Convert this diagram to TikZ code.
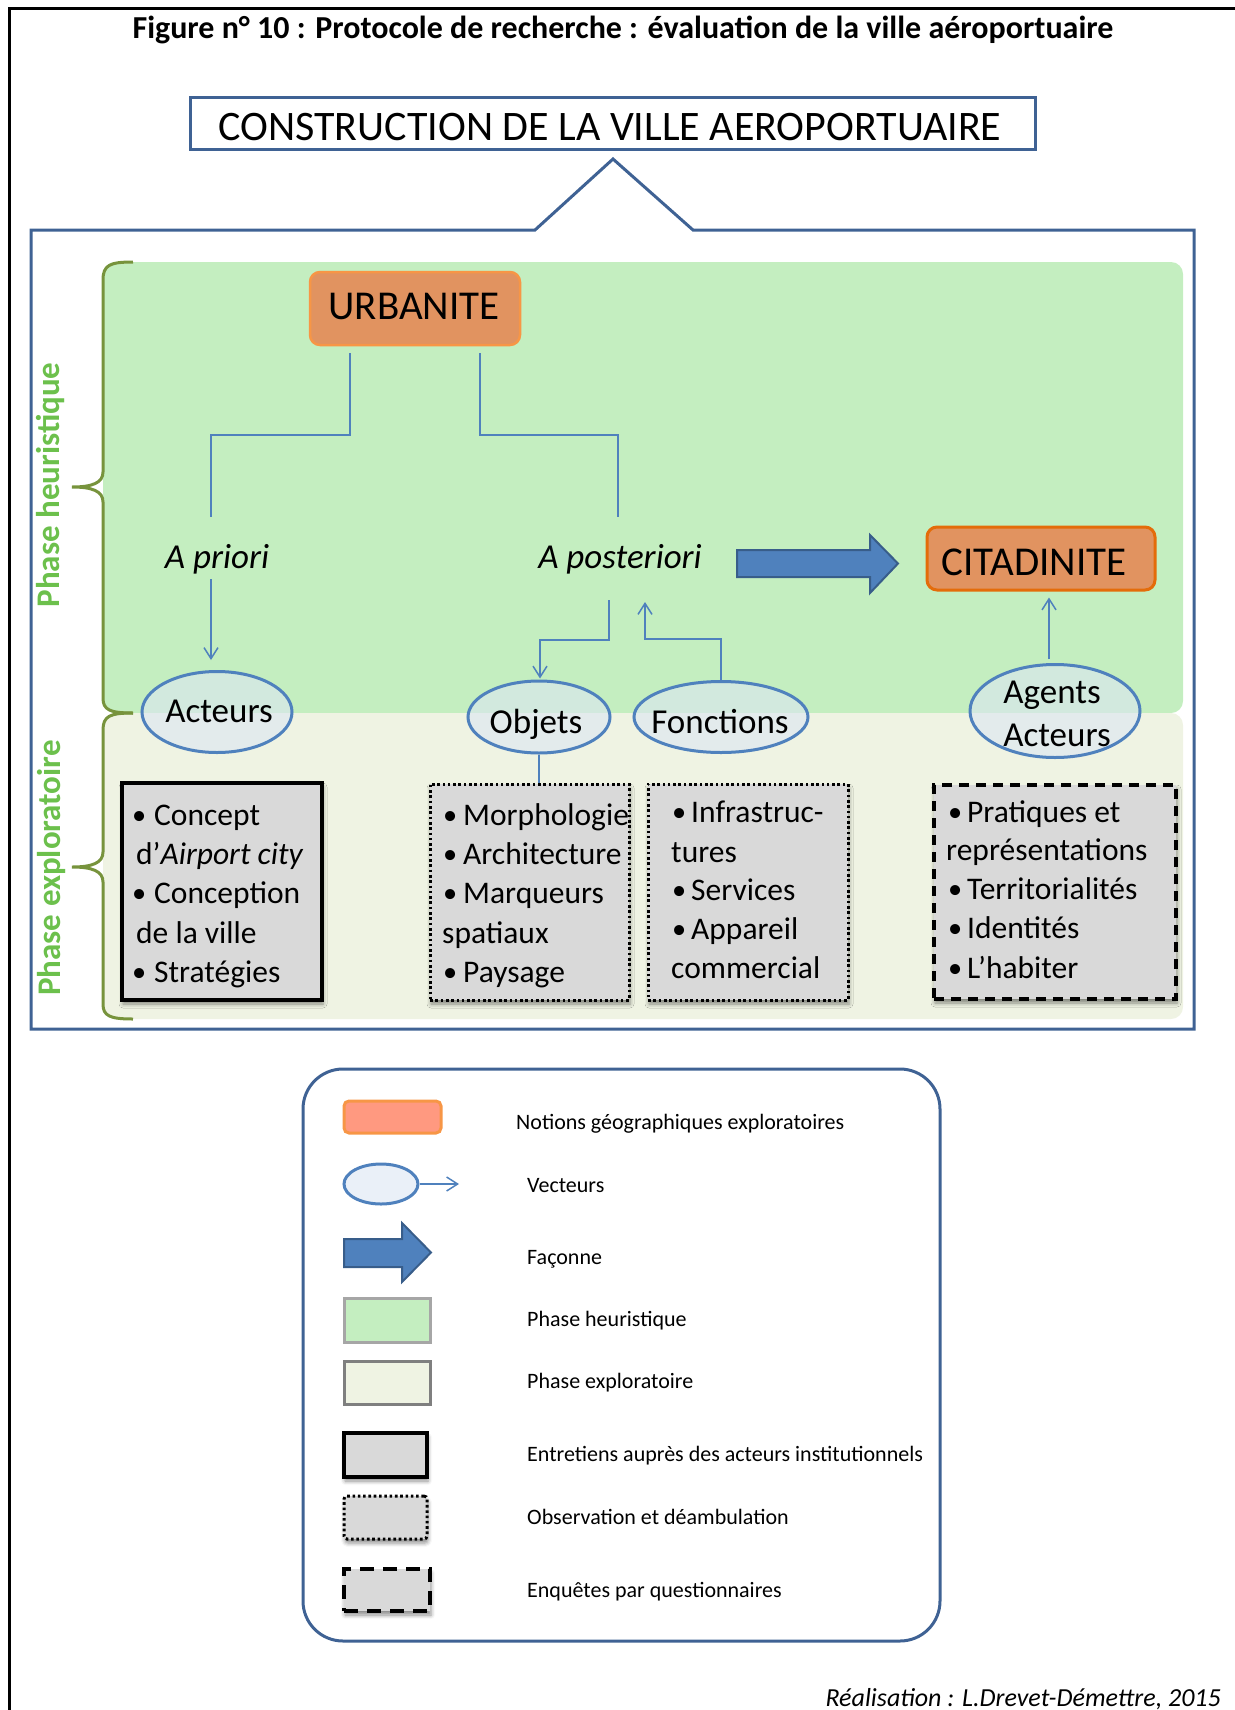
\documentclass[tikz,border=0pt]{standalone}
\usepackage{fontspec}
\setmainfont{Carlito}
\usetikzlibrary{shapes.geometric,arrows.meta,shadows.blur,calc}
\definecolor{frameblue}{RGB}{63,98,148}
\definecolor{connblue}{RGB}{79,129,189}
\definecolor{hgreen}{RGB}{196,238,192}
\definecolor{ebeige}{RGB}{239,243,227}
\definecolor{braceolive}{RGB}{119,147,60}
\definecolor{phasegreen}{RGB}{108,192,76}
\definecolor{notionfill}{RGB}{225,147,96}
\definecolor{notionedge}{RGB}{247,150,70}
\definecolor{notiondark}{RGB}{228,108,10}
\definecolor{vecfill}{RGB}{220,230,242}
\definecolor{boxgray}{RGB}{217,217,217}
\definecolor{arrowfill}{RGB}{79,129,189}
\definecolor{arrowedge}{RGB}{56,93,138}
\definecolor{salmon}{RGB}{255,153,128}
\definecolor{leggray}{RGB}{166,166,166}
\definecolor{legdark}{RGB}{127,127,127}
\definecolor{legellfill}{RGB}{234,240,248}
\newcommand\fsz[1]{\fontsize{#1pt}{#1pt}\selectfont}
\newcommand\bul[1]{\makebox[#1pt][l]{\hspace{-2pt}\raisebox{1pt}{\scalebox{0.9}{•}}}}
\tikzset{
  conn/.style={draw=connblue, line width=1.5pt},
  connarr/.style={conn, -{Straight Barb[length=11pt,width=14pt]}},
  ell/.style={ellipse, draw=connblue, line width=3pt, fill=vecfill, fill opacity=0.6, inner sep=0pt},
  notion/.style={rectangle, rounded corners=10pt, fill=notionfill, line width=2.5pt, inner sep=0pt},
  graybox/.style={rectangle, fill=boxgray, inner sep=0pt,
    blur shadow={shadow xshift=1pt, shadow yshift=-4pt, shadow opacity=45, shadow blur radius=4pt}},
  solidbox/.style={graybox, draw=black, line width=3.5pt},
  dotbox/.style={graybox, draw=black, line width=3pt, dash pattern=on 2.6pt off 2.7pt},
  dashbox/.style={graybox, draw=black, line width=3.5pt, dash pattern=on 10pt off 7pt},
  boxtxt/.style={anchor=base west, inner sep=0pt, font=\fsz{31.5}},
  elltxt/.style={anchor=base, inner sep=0pt, font=\fsz{35}},
  legtxt/.style={anchor=base west, inner sep=0pt, font=\fsz{22}},
  bracestyle/.style={draw=braceolive, line width=3pt},
  phase/.style={rotate=90, text=phasegreen, font=\bfseries\fsz{33}, inner sep=0pt},
  framestyle/.style={draw=frameblue, line width=3pt}
}
\begin{document}
\begin{tikzpicture}[x=1pt,y=-1pt]
\useasboundingbox (0,0) rectangle (1234,1710);
% outer frame
\draw[black, line width=3pt] (9,1712) -- (9,9) -- (1236,9);
% title
\node[anchor=base, inner sep=0pt, font=\bfseries\fsz{32}] (title) at (623,39) {Figure n° 10 : Protocole de recherche : évaluation de la ville aéroportuaire};
% construction box
\node[framestyle, rectangle, fill=white, minimum width=845pt, minimum height=52pt, inner sep=0pt] (cons) at (612.5,123) {};
\node[anchor=base, inner sep=0pt, font=\fsz{42}] (constxt) at (610,140) {CONSTRUCTION DE LA VILLE AEROPORTUAIRE};
% callout frame
\draw[framestyle, line join=miter] (31,230) -- (535,230) -- (613,159) -- (693,230) -- (1194,230) -- (1194,1029) -- (31,1029) -- cycle;
% phases
\fill[hgreen, rounded corners=12pt] (103,262) rectangle (1183,713);
\fill[ebeige, rounded corners=12pt] (103,713) rectangle (1183,1019);
% braces
\draw[bracestyle] (133,262) .. controls (110,262) and (103,265) .. (103,280) -- (103,472)
  .. controls (103,483) and (92,487) .. (72,487) .. controls (92,487) and (103,491) .. (103,502)
  -- (103,698) .. controls (103,710) and (110,713) .. (133,713);
\draw[bracestyle] (133,713) .. controls (110,713) and (103,716) .. (103,730) -- (103,852)
  .. controls (103,863) and (92,867) .. (72,867) .. controls (92,867) and (103,871) .. (103,882)
  -- (103,1004) .. controls (103,1016) and (110,1019) .. (133,1019);
\node[phase] (ph) at (50,485) {Phase heuristique};
\node[phase] (pe) at (52,868) {Phase exploratoire};
% notions
\node[notion, draw=notionedge, minimum width=210pt, minimum height=73pt] (urb) at (415,308.5) {};
\node[anchor=base, inner sep=0pt, font=\fsz{41}] (urbtxt) at (414,319) {URBANITE};
\node[notion, draw=notiondark, line width=3pt, minimum width=228pt, minimum height=63pt] (cit) at (1041,558.5) {};
\node[anchor=base, inner sep=0pt, font=\fsz{41}] (cittxt) at (1034,575) {CITADINITE};
% a priori / a posteriori
\node[anchor=base, inner sep=0pt, font=\itshape\fsz{35}] (apri) at (217,568) {A priori};
\node[anchor=base, inner sep=0pt, font=\itshape\fsz{35}] (apos) at (620,568) {A posteriori};
% big arrow
\filldraw[fill=arrowfill, draw=arrowedge, line width=2pt, line join=miter] (737,550) -- (870,550) -- (870,535) -- (898,563.5) -- (870,593) -- (870,577) -- (737,577) -- cycle;
% ellipses
\node[ell, minimum width=150pt, minimum height=81pt] (act) at (217,712) {};
\node[ell, minimum width=142pt, minimum height=72pt] (obj) at (539,717) {};
\node[ell, minimum width=174pt, minimum height=71pt] (fon) at (721,717) {};
\node[ell, minimum width=170pt, minimum height=93pt] (age) at (1055,711) {};
\node[elltxt] (acttxt) at (219,722) {Acteurs};
\node[elltxt] (objtxt) at (536,733) {Objets};
\node[elltxt] (fontxt) at (720,733) {Fonctions};
\node[elltxt] (agetxta) at (1052,703) {Agents};
\node[elltxt] (agetxtb) at (1057,746) {Acteurs};
% connectors
\coordinate (ul) at (350,353);
\coordinate (apritop) at (211,517);
\coordinate (ur) at (480,353);
\coordinate (apostop) at (618,517);
\coordinate (apribot) at (211,579);
\coordinate (aposbl) at (609,600);
\coordinate (aposbr) at (645,602);
\draw[conn] (ul) -- ++(0,82) -| (apritop);
\draw[conn] (ur) -- ++(0,82) -| (apostop);
\draw[connarr] (apribot) -- ($(act.north)+(-6,-10)$);
\draw[connarr] (aposbl) -- ++(0,40) -| ($(obj.north)+(1,-1)$);
\draw[connarr] (fon.north) -- ++(0,-41) -| (aposbr);
\draw[connarr] ($(age.north)+(-6,-4)$) -- ($(cit.south)+(8,6)$);
% boxes
\node[solidbox, minimum width=200pt, minimum height=217pt] (actbox) at (222,891.5) {};
\node[dotbox, minimum width=199pt, minimum height=216pt] (objbox) at (529.5,892) {};
\node[dotbox, minimum width=200pt, minimum height=216pt] (fonbox) at (748,892) {};
\node[dashbox, minimum width=242pt, minimum height=214pt] (agebox) at (1055,892) {};
\draw[conn] ($(act.south)+(-5,0)$) -- ($(act.south)+(-5,0)$ |- actbox.north);
\draw[conn] (obj.south) -- (obj.south |- objbox.north);
\draw[conn] ($(fon.south)+(6,0)$) -- ($(fon.south)+(6,0)$ |- fonbox.north);
\draw[conn] ($(age.south)+(-6,0)$) -- ($(age.south)+(-6,0)$ |- agebox.north);
% box texts
\node[boxtxt] (a1) at (134,825) {\bul{20}Concept};
\node[boxtxt] (a2) at (136,864) {d’\textit{Airport city}};
\node[boxtxt] (a3) at (134,903) {\bul{20}Conception};
\node[boxtxt] (a4) at (136,943) {de la ville};
\node[boxtxt] (a5) at (134,982) {\bul{20}Stratégies};
\node[boxtxt] (o1) at (445,825) {\bul{18}Morphologie};
\node[boxtxt] (o2) at (445,864) {\bul{18}Architecture};
\node[boxtxt] (o3) at (445,903) {\bul{18}Marqueurs};
\node[boxtxt] (o4) at (442,943) {spatiaux};
\node[boxtxt] (o5) at (445,982) {\bul{18}Paysage};
\node[boxtxt] (f1) at (674,822) {\bul{17}Infrastruc-};
\node[boxtxt] (f2) at (671,862) {tures};
\node[boxtxt] (f3) at (674,900) {\bul{17}Services};
\node[boxtxt] (f4) at (674,939) {\bul{17}Appareil};
\node[boxtxt] (f5) at (671,978) {commercial};
\node[boxtxt] (g1) at (950,822) {\bul{17}Pratiques et};
\node[boxtxt] (g2) at (946,860) {représentations};
\node[boxtxt] (g3) at (950,899) {\bul{17}Territorialités};
\node[boxtxt] (g4) at (950,938) {\bul{17}Identités};
\node[boxtxt] (g5) at (950,978) {\bul{17}L’habiter};
% legend
\draw[framestyle, rounded corners=40pt] (303,1069) rectangle (940,1641);
\node[rectangle, rounded corners=5pt, fill=salmon, draw=notionedge, line width=3pt, minimum width=97pt, minimum height=32pt, inner sep=0pt] (lnot) at (392.5,1117) {};
\node[ellipse, draw=connblue, line width=3pt, fill=legellfill, minimum width=74pt, minimum height=40pt, inner sep=0pt] (lell) at (381,1184) {};
\coordinate (lellend) at (459,1184);
\draw[connarr] (lell.east) -- (lellend);
\filldraw[fill=arrowfill, draw=arrowedge, line width=2pt, line join=miter] (344,1239) -- (402,1239) -- (402,1223) -- (431,1252.5) -- (402,1282) -- (402,1267) -- (344,1267) -- cycle;
\node[rectangle, fill=hgreen, draw=leggray, line width=3pt, minimum width=86pt, minimum height=44pt, inner sep=0pt] (lhe) at (387,1320) {};
\node[rectangle, fill=ebeige, draw=legdark, line width=3pt, minimum width=86pt, minimum height=43pt, inner sep=0pt] (lex) at (387,1382.5) {};
\node[solidbox, minimum width=83pt, minimum height=44pt] (lsol) at (385.5,1455) {};
\node[dotbox, rounded corners=3pt, minimum width=83pt, minimum height=43pt] (ldot) at (385.5,1517.5) {};
\node[dashbox, dash pattern=on 14pt off 9pt, minimum width=86pt, minimum height=42pt] (ldash) at (387,1590) {};
\node[legtxt] (t1) at (516,1129) {Notions géographiques exploratoires};
\node[legtxt] (t2) at (527,1192) {Vecteurs};
\node[legtxt] (t3) at (527,1264) {Façonne};
\node[legtxt] (t4) at (527,1326) {Phase heuristique};
\node[legtxt] (t5) at (527,1388) {Phase exploratoire};
\node[legtxt] (t6) at (527,1461) {Entretiens auprès des acteurs institutionnels};
\node[legtxt] (t7) at (527,1524) {Observation et déambulation};
\node[legtxt] (t8) at (527,1597) {Enquêtes par questionnaires};
% credit
\node[anchor=base east, inner sep=0pt, font=\itshape\fsz{26}] (credit) at (1221,1706) {Réalisation : L.Drevet-Démettre, 2015};
\end{tikzpicture}
\end{document}
